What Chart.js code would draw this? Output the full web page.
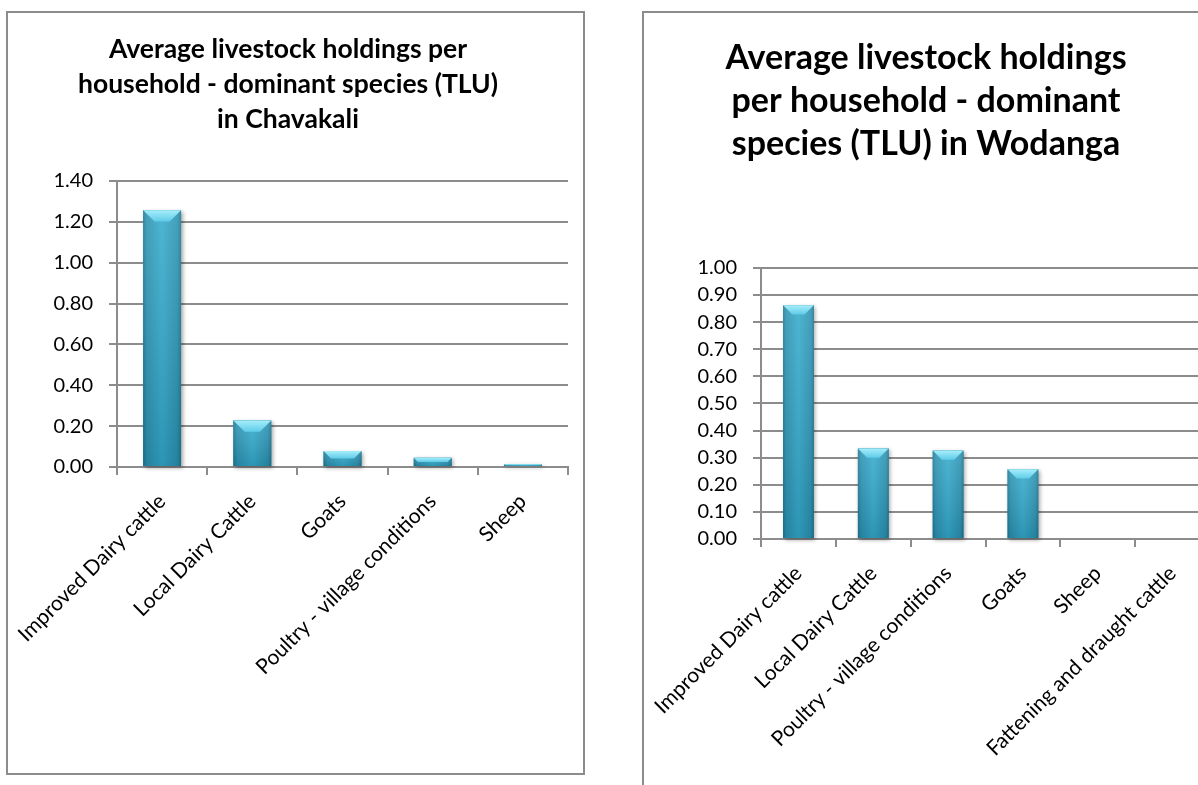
<!DOCTYPE html>
<html>
<head>
<meta charset="utf-8">
<script src="https://cdn.jsdelivr.net/npm/chart.js@4.4.1/dist/chart.umd.min.js"></script>
<style>
html,body{margin:0;padding:0;background:#fff;overflow:hidden;width:1198px;height:785px;}
#leftBox{position:absolute;left:6px;top:11px;width:579px;height:764px;border:2px solid #8c8c8c;box-sizing:border-box;}
#rightBox{position:absolute;left:642px;top:11px;width:700px;height:800px;border-left:2px solid #8c8c8c;border-top:2px solid #8c8c8c;box-sizing:border-box;}
#leftCanvas{position:absolute;left:8px;top:13px;}
#rightCanvas{position:absolute;left:644px;top:13px;}
</style>
</head>
<body>
<div id="leftBox"></div>
<div id="rightBox"></div>
<canvas id="leftCanvas" width="575" height="760"></canvas>
<canvas id="rightCanvas" width="580" height="772"></canvas>
<script>
// ---- Data: Chavakali ----
const chavakaliCategories = ["Improved Dairy cattle", "Local Dairy Cattle", "Goats", "Poultry - village conditions", "Sheep"];
const chavakaliValues = [1.257, 0.228, 0.078, 0.045, 0.013];
const chavakaliTitle = ["Average livestock holdings per", "household - dominant species (TLU)", "in Chavakali"];
const chavakaliAxisMax = 1.4;
const chavakaliAxisStep = 0.2;

// ---- Data: Wodanga ----
const wodangaCategories = ["Improved Dairy cattle", "Local Dairy Cattle", "Poultry - village conditions", "Goats", "Sheep", "Fattening and draught cattle"];
const wodangaValues = [0.862, 0.334, 0.326, 0.257, 0, 0];
const wodangaTitle = ["Average livestock holdings", "per household - dominant", "species (TLU) in Wodanga"];
const wodangaAxisMax = 1.0;
const wodangaAxisStep = 0.1;

const FONT = "Lato, 'Open Sans', sans-serif";
const GRID = "#8c8c8c";

const bevelPlugin = {
  id: 'bevel',
  afterDatasetsDraw(chart) {
    const ctx = chart.ctx;
    chart.getDatasetMeta(0).data.forEach(bar => {
      const p = bar.getProps(['x', 'y', 'base', 'width'], true);
      const l = p.x - p.width / 2, r = p.x + p.width / 2;
      const t = Math.min(p.y, p.base), bt = Math.max(p.y, p.base);
      const h = bt - t, w = p.width;
      if (h <= 0.5) return;
      ctx.save();
      ctx.shadowColor = 'rgba(0,0,0,0.35)';
      ctx.shadowBlur = 4; ctx.shadowOffsetX = 1.5; ctx.shadowOffsetY = 1.5;
      const g = ctx.createLinearGradient(l, 0, r, 0);
      g.addColorStop(0, '#1f7891'); g.addColorStop(0.1, '#2b93b2');
      g.addColorStop(0.5, '#35abcc'); g.addColorStop(0.9, '#2b93b2'); g.addColorStop(1, '#1f7891');
      ctx.fillStyle = g; ctx.fillRect(l, t, w, h);
      ctx.shadowColor = 'transparent';
      const v = ctx.createLinearGradient(0, t, 0, bt);
      v.addColorStop(0, 'rgba(255,255,255,0.12)'); v.addColorStop(1, 'rgba(0,30,50,0.15)');
      ctx.fillStyle = v; ctx.fillRect(l, t, w, h);
      const b = Math.min(w * 0.3, h / 2);
      const tg = ctx.createLinearGradient(0, t, 0, t + b);
      tg.addColorStop(0, '#a6eefb'); tg.addColorStop(1, '#5fcbe8');
      ctx.beginPath(); ctx.moveTo(l, t); ctx.lineTo(r, t); ctx.lineTo(r - b, t + b); ctx.lineTo(l + b, t + b); ctx.closePath();
      ctx.fillStyle = tg; ctx.fill();
      ctx.restore();
    });
  }
};

function makeChart(id, labels, values, title, axisMax, axisStep, cfg) {
  return new Chart(document.getElementById(id), {
    type: 'bar',
    data: { labels: labels, datasets: [{ data: values, backgroundColor: '#2f9fc0', borderWidth: 0, barPercentage: cfg.barPct, categoryPercentage: 1 }] },
    plugins: [bevelPlugin],
    options: {
      responsive: false, animation: false, devicePixelRatio: 1,
      layout: { padding: cfg.padding },
      plugins: {
        legend: { display: false }, tooltip: { enabled: false },
        title: { display: true, text: title, color: '#000',
          font: { family: FONT, size: cfg.titleSize, weight: 'bold', lineHeight: cfg.titleLH },
          padding: { top: 0, bottom: cfg.titlePadBottom } }
      },
      scales: {
        x: {
          grid: { drawOnChartArea: false, drawTicks: true, tickLength: 8, color: GRID, lineWidth: 2, offset: true },
          border: { display: true, color: GRID, width: 2 },
          ticks: { color: '#000', font: { family: FONT, size: 21 }, maxRotation: 45, minRotation: 45, autoSkip: false, padding: 14 },
          afterFit(s) { s.height = cfg.xHeight; s.paddingLeft = 0; s.paddingRight = 0; }
        },
        y: {
          min: 0, max: axisMax,
          grid: { color: GRID, lineWidth: 2, tickLength: 8 },
          border: { display: true, color: GRID, width: 2 },
          ticks: { stepSize: axisStep, color: '#000', font: { family: FONT, size: 20 }, padding: 16,
            callback: v => Number(v).toFixed(2) },
          afterFit(s) { s.width = cfg.yWidth; }
        }
      }
    }
  });
}

makeChart('leftCanvas', chavakaliCategories, chavakaliValues, chavakaliTitle, chavakaliAxisMax, chavakaliAxisStep, {
  barPct: 0.42, padding: { left: 0, right: 15, top: 19, bottom: 0 },
  titleSize: 26.5, titleLH: 35 / 26.5, titlePadBottom: 44, xHeight: 306, yWidth: 109
});
makeChart('rightCanvas', wodangaCategories, wodangaValues, wodangaTitle, wodangaAxisMax, wodangaAxisStep, {
  barPct: 0.41, padding: { left: -2, right: 14, top: 23, bottom: 0 },
  titleSize: 34, titleLH: 43.3 / 34, titlePadBottom: 102, xHeight: 246, yWidth: 119
});
</script>
</body>
</html>
